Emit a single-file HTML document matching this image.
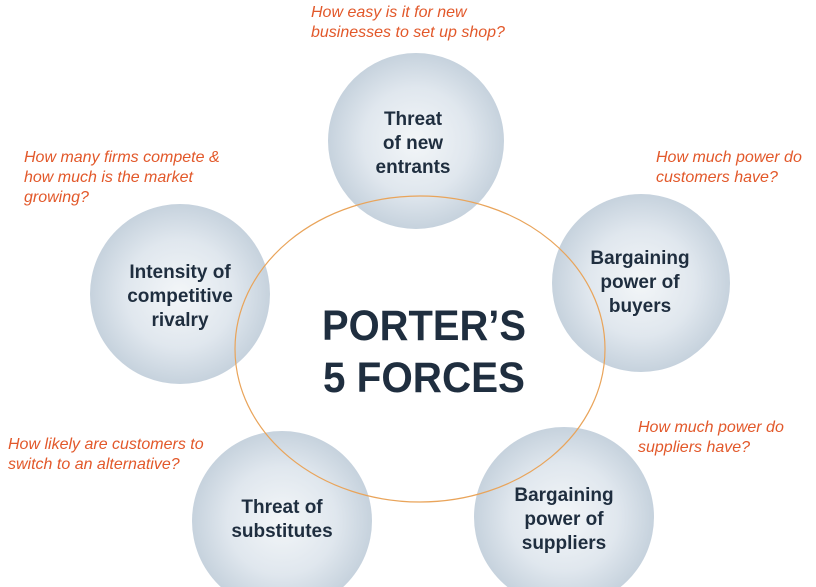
<!DOCTYPE html>
<html><head><meta charset="utf-8"><style>
html,body{margin:0;padding:0;background:#fff;}
svg{display:block}
.t{font-family:"Liberation Sans",sans-serif;font-weight:bold;fill:#1f2e3f;text-anchor:middle;font-size:19px}
.q{font-family:"Liberation Sans",sans-serif;font-style:italic;fill:#e2582a;font-size:16px}
.big{font-family:"Liberation Sans",sans-serif;font-weight:bold;fill:#1f2e3f;text-anchor:middle;font-size:43px}
</style></head><body>
<svg width="816" height="587" viewBox="0 0 816 587" xmlns="http://www.w3.org/2000/svg">
<defs>
<radialGradient id="g" cx="50%" cy="50%" r="50%">
<stop offset="0" stop-color="#f3f6f8"/>
<stop offset="0.6" stop-color="#e0e7ee"/>
<stop offset="1" stop-color="#c6d2dd"/>
</radialGradient>
</defs>
<circle cx="416" cy="141" r="88" fill="url(#g)"/>
<circle cx="180" cy="294" r="90" fill="url(#g)"/>
<circle cx="641" cy="283" r="89" fill="url(#g)"/>
<circle cx="282" cy="521" r="90" fill="url(#g)"/>
<circle cx="564" cy="517" r="90" fill="url(#g)"/>
<ellipse cx="420" cy="349" rx="185" ry="153" fill="none" stroke="#e9a45a" stroke-width="1.2"/>
<text class="t" x="413" y="125">Threat</text>
<text class="t" x="413" y="149">of new</text>
<text class="t" x="413" y="173">entrants</text>
<text class="t" x="180" y="278">Intensity of</text>
<text class="t" x="180" y="302">competitive</text>
<text class="t" x="180" y="326">rivalry</text>
<text class="t" x="640" y="264">Bargaining</text>
<text class="t" x="640" y="288">power of</text>
<text class="t" x="640" y="312">buyers</text>
<text class="t" x="282" y="513">Threat of</text>
<text class="t" x="282" y="537">substitutes</text>
<text class="t" x="564" y="501">Bargaining</text>
<text class="t" x="564" y="525">power of</text>
<text class="t" x="564" y="549">suppliers</text>
<text class="big" x="424" y="340" textLength="204" lengthAdjust="spacingAndGlyphs">PORTER’S</text>
<text class="big" x="424" y="392" textLength="202" lengthAdjust="spacingAndGlyphs">5 FORCES</text>
<text class="q" x="311" y="17">How easy is it for new</text>
<text class="q" x="311" y="37">businesses to set up shop?</text>
<text class="q" x="24" y="162">How many firms compete &amp;</text>
<text class="q" x="24" y="182">how much is the market</text>
<text class="q" x="24" y="202">growing?</text>
<text class="q" x="656" y="162">How much power do</text>
<text class="q" x="656" y="182">customers have?</text>
<text class="q" x="8" y="449">How likely are customers to</text>
<text class="q" x="8" y="469">switch to an alternative?</text>
<text class="q" x="638" y="432">How much power do</text>
<text class="q" x="638" y="452">suppliers have?</text>
</svg>
</body></html>
